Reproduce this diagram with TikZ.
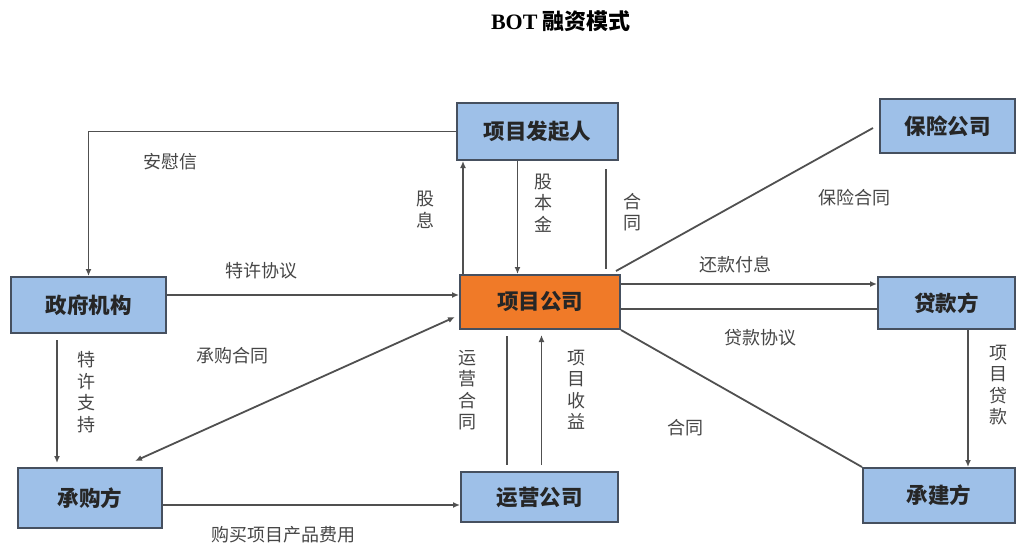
\documentclass[tikz,border=0pt]{standalone}
\usepackage{fontspec}
\setmainfont{Liberation Serif}
\newfontfamily\cjk{Noto Sans CJK SC}
\usetikzlibrary{arrows.meta}
\definecolor{boxblue}{RGB}{158,192,232}
\definecolor{boxedge}{RGB}{70,80,95}
\definecolor{orangefill}{RGB}{240,122,40}
\definecolor{linegray}{RGB}{80,80,80}
\definecolor{labelgray}{RGB}{70,70,70}
\tikzset{
  partybox/.style={draw=boxedge, line width=2pt, fill=boxblue, inner sep=0pt,
    font=\cjk\bfseries\fontsize{21.5}{24}\selectfont, text=black!85},
  conn/.style={draw=linegray, line width=1.8pt},
  arr/.style={conn, -{Latex[length=7pt,width=6pt]}},
  darr/.style={conn, {Latex[length=7pt,width=6pt]}-{Latex[length=7pt,width=6pt]}},
  lbl/.style={font=\cjk\fontsize{18}{20}\selectfont, text=labelgray, inner sep=0pt},
  vlbl/.style={lbl, align=center, font=\cjk\fontsize{18}{21.5}\selectfont},
}
\begin{document}
\begin{tikzpicture}[x=1pt, y=-1pt]
\useasboundingbox (0,0) rectangle (1018,547);
% title
\node (title) at (561,21) {\bfseries\fontsize{22}{24}\selectfont BOT {\cjk 融资模式}};
% boxes
\node[partybox, minimum width=161pt, minimum height=57pt] (fq) at (537.5,131.5) {项目发起人};
\node[partybox, minimum width=135pt, minimum height=54pt] (bx) at (947.5,126) {保险公司};
\node[partybox, minimum width=155pt, minimum height=56pt] (zf) at (88.5,305) {政府机构};
\node[partybox, fill=orangefill, minimum width=160pt, minimum height=54pt] (xm) at (540,302) {项目公司};
\node[partybox, minimum width=137pt, minimum height=52pt] (dk) at (946.5,303) {贷款方};
\node[partybox, minimum width=144pt, minimum height=60pt] (cg) at (90,498) {承购方};
\node[partybox, minimum width=157pt, minimum height=50pt] (yy) at (539.5,497) {运营公司};
\node[partybox, minimum width=152pt, minimum height=55pt] (cj) at (939,495.5) {承建方};
% connectors
\draw[arr] (fq.west) -| (zf.north);
\node[lbl] (l1) at (170,162) {安慰信};
\draw[arr] ([yshift=10pt]zf.east) -- ([yshift=10pt]zf.east -| xm.west);
\node[lbl] (l2) at (261,271) {特许协议};
\draw[arr] ([xshift=4pt]xm.north west) -- ([xshift=4pt]xm.north west |- fq.south);
\node[vlbl] (l3) at (425,210) {股\\息};
\draw[arr] ([xshift=-20pt]fq.south) -- ([xshift=-20pt]fq.south |- xm.north);
\node[vlbl] (l4) at (543,203) {股\\本\\金};
\draw[conn] ([xshift=-13pt,yshift=-8pt]fq.south east) -- ([xshift=-13pt,yshift=5pt]fq.south east |- xm.north);
\node[vlbl] (l5) at (632,212) {合\\同};
\draw[conn] ([xshift=-5pt,yshift=3pt]xm.north east) -- ([xshift=-6pt,yshift=-2pt]bx.west);
\node[lbl] (l6) at (854,198) {保险合同};
\draw[arr] ([yshift=18pt]xm.east) -- ([yshift=18pt]xm.east -| dk.west);
\node[lbl] (l7) at (735,265) {还款付息};
\draw[conn] ([yshift=-6pt]dk.west) -- ([yshift=-6pt]dk.west -| xm.east);
\node[lbl] (l8) at (760,338) {贷款协议};
\draw[conn] (xm.south east) -- (cj.north west);
\node[lbl] (l9) at (685,428) {合同};
\draw[arr] ([xshift=21.5pt]dk.south) -- ([xshift=21.5pt]dk.south |- cj.north);
\node[vlbl] (l10) at (998,385) {项\\目\\贷\\款};
\draw[arr, shorten <=6pt, shorten >=4pt] ([xshift=-31.5pt]zf.south) -- ([xshift=-31.5pt]zf.south |- cg.north);
\node[vlbl] (l11) at (86,392) {特\\许\\支\\持};
\draw[darr] ([xshift=-4pt,yshift=-15pt]xm.west) -- ([xshift=45pt,yshift=6pt]cg.north);
\node[lbl] (l12) at (232,356) {承购合同};
\draw[arr] ([yshift=-7pt]cg.east) -- ([yshift=-7pt]cg.east -| yy.west);
\node[lbl] (l13) at (283,535) {购买项目产品费用};
\draw[conn, shorten <=6pt, shorten >=6pt] ([xshift=-33pt]xm.south) -- ([xshift=-33pt]xm.south |- yy.north);
\node[vlbl] (l14) at (467,390) {运\\营\\合\\同};
\draw[arr, shorten <=6pt, shorten >=5pt] ([xshift=2pt]yy.north) -- ([xshift=2pt]yy.north |- xm.south);
\node[vlbl] (l15) at (576,390) {项\\目\\收\\益};
\end{tikzpicture}
\end{document}
